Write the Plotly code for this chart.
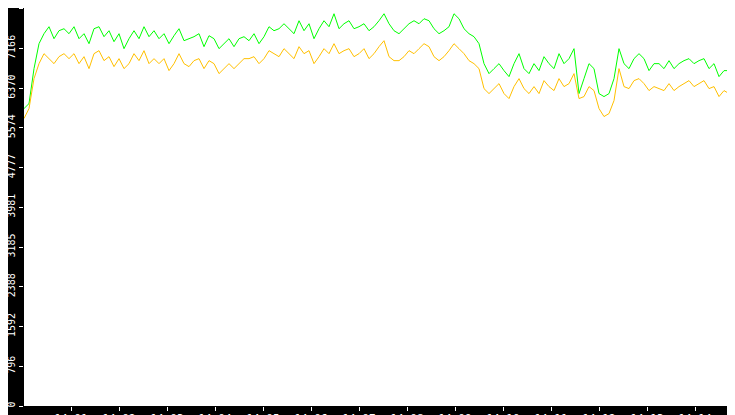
import plotly.graph_objects as go
import pandas as pd

# sample timestamps: start + n * step
start = pd.Timestamp("2024-01-01 14:00:01.25")
step_s = 6.25
end = pd.Timestamp("2024-01-01 14:14:59.5")

green = [5960, 6060, 6760, 7260, 7460, 7600, 7360, 7520, 7560, 7460, 7600, 7360, 7460, 7260, 7560, 7600,
         7400, 7520, 7300, 7460, 7160, 7360, 7520, 7360, 7600, 7400, 7520, 7360, 7460, 7260, 7420, 7560,
         7320, 7360, 7400, 7460, 7200, 7420, 7360, 7160, 7260, 7360, 7200, 7360, 7400, 7320, 7460, 7260,
         7400, 7600, 7520, 7560, 7660, 7560, 7460, 7720, 7520, 7660, 7360, 7560, 7720, 7600, 7860, 7560,
         7660, 7720, 7560, 7600, 7660, 7520, 7600, 7720, 7860, 7660, 7520, 7460, 7560, 7660, 7720, 7660,
         7760, 7720, 7560, 7460, 7520, 7600, 7860, 7760, 7560, 7460, 7400, 7260, 6860, 6660, 6760, 6860,
         6720, 6600, 6860, 7060, 6760, 6660, 6860, 6720, 7000, 6860, 6760, 7060, 6860, 6960, 7160, 6260,
         6560, 6860, 6760, 6260, 6200, 6260, 6560, 7160, 6860, 6760, 6960, 7060, 6960, 6720, 6860, 6860,
         6760, 6920, 6760, 6860, 6920, 6960, 6860, 6920, 6960, 6760, 6860, 6600, 6720, 6720, 6760, 6860]
yellow = [5760, 5960, 6560, 6860, 7060, 6960, 6860, 7000, 7060, 6960, 7060, 6860, 7000, 6760, 7060, 7120,
          6920, 7000, 6800, 6960, 6760, 6860, 7060, 6920, 7120, 6860, 6960, 6860, 6960, 6720, 6860, 7060,
          6860, 6800, 6920, 6960, 6760, 6920, 6860, 6660, 6760, 6860, 6760, 6860, 6960, 6960, 7000, 6860,
          6960, 7120, 7060, 7000, 7160, 7060, 6960, 7200, 7060, 7120, 6860, 7000, 7160, 7060, 7260, 7060,
          7120, 7160, 7000, 7060, 7160, 6960, 7060, 7200, 7320, 7000, 6920, 6920, 7000, 7120, 7060, 7160,
          7260, 7200, 7000, 6920, 7000, 7120, 7260, 7160, 7060, 6920, 6860, 6760, 6360, 6260, 6360, 6460,
          6260, 6160, 6400, 6560, 6360, 6260, 6400, 6260, 6520, 6400, 6320, 6560, 6400, 6460, 6660, 6160,
          6200, 6400, 6320, 5960, 5800, 5860, 6120, 6760, 6400, 6360, 6520, 6560, 6460, 6320, 6400, 6360,
          6320, 6460, 6320, 6400, 6460, 6520, 6400, 6460, 6520, 6360, 6400, 6200, 6320, 6260, 6320, 6400]
green_last = 3300
yellow_last = 0

y_ticks = [0, 796, 1592, 2388, 3185, 3981, 4777, 5574, 6370, 7166, 7963]

times = [start + pd.Timedelta(seconds=i * step_s) for i in range(len(green))] + [end]

fig = go.Figure()
fig.add_trace(go.Scatter(x=times, y=green + [green_last], mode="lines",
                         line=dict(color="#00ff00", width=1), hoverinfo="skip", cliponaxis=False))
fig.add_trace(go.Scatter(x=times, y=yellow + [yellow_last], mode="lines",
                         line=dict(color="#ffc000", width=1), hoverinfo="skip", cliponaxis=False))

fig.update_layout(
    width=735, height=415,
    margin=dict(l=16, r=0, t=0, b=17),
    paper_bgcolor="black", plot_bgcolor="white",
    showlegend=False,
    font=dict(family="DejaVu Sans Mono", size=11, color="white"),
)
fig.update_xaxes(range=[start, pd.Timestamp("2024-01-01 14:15:00")], tickformat="%H:%M", dtick=60000,
                 showgrid=False, zeroline=False, ticks="outside", ticklen=4, automargin=False,
                 tickcolor="white", tickfont=dict(size=11, color="white"), ticklabelstandoff=-2)
fig.update_yaxes(range=[0, 7975], tickvals=y_ticks, ticktext=[str(v) for v in y_ticks],
                 tickangle=-90, showgrid=False, zeroline=False, ticks="outside", automargin=False,
                 ticklen=4, tickcolor="white", tickfont=dict(size=10, color="white"))

fig.write_html("out.html")
